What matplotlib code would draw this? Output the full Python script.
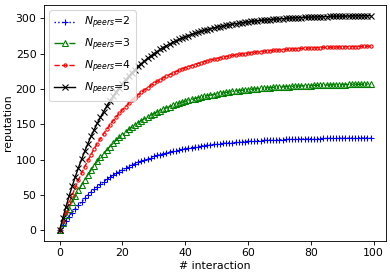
import matplotlib
matplotlib.use("Agg")
import matplotlib.pyplot as plt

# interaction index 0..99
interactions = list(range(100))

# reputation values, one list per peer count
rep_2 = [0, 6.7, 13.1, 19.2, 25.0, 30.4, 35.6, 40.5, 45.2, 49.6,
         53.8, 57.8, 61.6, 65.2, 68.6, 71.8, 74.9, 77.8, 80.5, 83.1,
         85.6, 88.0, 90.2, 92.3, 94.3, 96.2, 98.0, 99.8, 101.4, 102.9,
         104.4, 105.8, 107.1, 108.3, 109.5, 110.7, 111.7, 112.7, 113.7, 114.6,
         115.5, 116.3, 117.1, 117.8, 118.5, 119.2, 119.8, 120.4, 121.0, 121.5,
         122.0, 122.5, 123.0, 123.4, 123.8, 124.2, 124.6, 125.0, 125.3, 125.6,
         125.9, 126.2, 126.5, 126.7, 127.0, 127.2, 127.4, 127.6, 127.8, 128.0,
         128.2, 128.4, 128.5, 128.7, 128.8, 129.0, 129.1, 129.2, 129.3, 129.4,
         129.5, 129.6, 129.7, 129.8, 129.9, 130.0, 130.1, 130.1, 130.2, 130.3,
         130.3, 130.4, 130.5, 130.5, 130.6, 130.6, 130.7, 130.7, 130.7, 130.8]

rep_3 = [0, 10.7, 20.8, 30.4, 39.5, 48.1, 56.3, 64.1, 71.5, 78.5,
         85.1, 91.4, 97.4, 103.1, 108.4, 113.6, 118.4, 123.0, 127.3, 131.5,
         135.4, 139.1, 142.7, 146.0, 149.2, 152.2, 155.1, 157.8, 160.4, 162.8,
         165.1, 167.3, 169.4, 171.4, 173.3, 175.0, 176.7, 178.3, 179.8, 181.3,
         182.7, 184.0, 185.2, 186.4, 187.5, 188.5, 189.5, 190.5, 191.4, 192.2,
         193.0, 193.8, 194.5, 195.2, 195.9, 196.5, 197.1, 197.6, 198.2, 198.7,
         199.2, 199.6, 200.0, 200.4, 200.8, 201.2, 201.6, 201.9, 202.2, 202.5,
         202.8, 203.0, 203.3, 203.5, 203.8, 204.0, 204.2, 204.4, 204.6, 204.7,
         204.9, 205.1, 205.2, 205.4, 205.5, 205.6, 205.7, 205.9, 206.0, 206.1,
         206.2, 206.3, 206.4, 206.4, 206.5, 206.6, 206.7, 206.7, 206.8, 206.9]

rep_4 = [0, 13.4, 26.2, 38.3, 49.7, 60.6, 70.9, 80.7, 90.0, 98.8,
         107.2, 115.2, 122.7, 129.8, 136.6, 143.0, 149.1, 154.9, 160.4, 165.6,
         170.6, 175.2, 179.7, 183.9, 187.9, 191.7, 195.3, 198.7, 202.0, 205.1,
         208.0, 210.7, 213.4, 215.9, 218.2, 220.5, 222.6, 224.6, 226.5, 228.4,
         230.1, 231.7, 233.3, 234.7, 236.1, 237.5, 238.7, 239.9, 241.1, 242.1,
         243.1, 244.1, 245.0, 245.9, 246.7, 247.5, 248.3, 249.0, 249.6, 250.3,
         250.9, 251.4, 252.0, 252.5, 253.0, 253.4, 253.9, 254.3, 254.7, 255.1,
         255.4, 255.8, 256.1, 256.4, 256.7, 256.9, 257.2, 257.4, 257.7, 257.9,
         258.1, 258.3, 258.5, 258.7, 258.9, 259.0, 259.2, 259.3, 259.4, 259.6,
         259.7, 259.8, 259.9, 260.0, 260.1, 260.2, 260.3, 260.4, 260.5, 260.6]

rep_5 = [0, 16.9, 32.9, 48.0, 62.3, 75.8, 88.5, 100.6, 111.9, 122.6,
         132.8, 142.3, 151.4, 159.9, 168.0, 175.6, 182.8, 189.5, 196.0, 202.0,
         207.7, 213.1, 218.2, 223.1, 227.6, 231.9, 236.0, 239.8, 243.4, 246.8,
         250.1, 253.1, 256.0, 258.7, 261.3, 263.7, 266.0, 268.2, 270.2, 272.2,
         274.0, 275.7, 277.3, 278.9, 280.3, 281.7, 283.0, 284.2, 285.4, 286.5,
         287.5, 288.5, 289.4, 290.2, 291.1, 291.8, 292.6, 293.3, 293.9, 294.5,
         295.1, 295.7, 296.2, 296.7, 297.1, 297.6, 298.0, 298.4, 298.7, 299.1,
         299.4, 299.7, 300.0, 300.3, 300.6, 300.8, 301.0, 301.3, 301.5, 301.7,
         301.8, 302.0, 302.2, 302.3, 302.5, 302.6, 302.8, 302.9, 303.0, 303.1,
         303.2, 303.3, 303.4, 303.5, 303.6, 303.7, 303.7, 303.8, 303.9, 303.9]

labels = ["$N_{peers}$=2", "$N_{peers}$=3", "$N_{peers}$=4", "$N_{peers}$=5"]

fig, ax = plt.subplots(figsize=(390 / 78, 275 / 78), dpi=78)

ax.plot(interactions, rep_2, color="blue", linestyle=":", marker="+",
        linewidth=1.3, label=labels[0])
ax.plot(interactions, rep_3, color="green", linestyle="-.", marker="^",
        linewidth=1.3, fillstyle="none", label=labels[1])
ax.plot(interactions, rep_4, color="red", linestyle="--", marker="o",
        linewidth=1.3, markersize=3, fillstyle="none", label=labels[2])
ax.plot(interactions, rep_5, color="black", linestyle="-", marker="x",
        linewidth=1.3, label=labels[3])

ax.set_xlabel("# interaction", labelpad=2)
ax.set_ylabel("reputation", labelpad=2)
ax.legend(loc="upper left")

plt.subplots_adjust(left=0.113, right=0.99, top=0.982, bottom=0.124)
plt.savefig("out.png")
